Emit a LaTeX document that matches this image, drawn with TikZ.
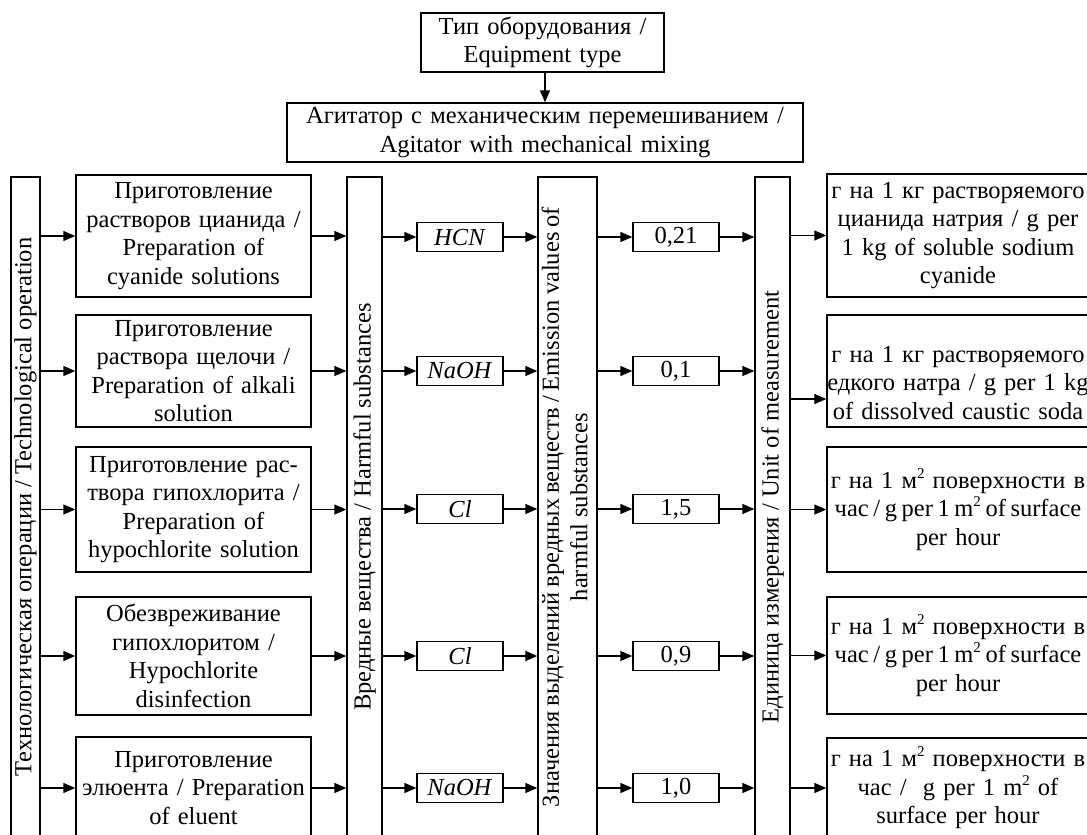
\documentclass[tikz,border=0pt]{standalone}
\usepackage{fontspec}
\setmainfont{Liberation Serif}
\usetikzlibrary{arrows.meta}
\newcommand\sqtwo{\raisebox{10pt}{\fontsize{15}{15}\selectfont 2}}
\begin{document}
\begin{tikzpicture}[x=1pt,y=-1pt,
  every node/.style={font=\fontsize{24.5}{28.5}\selectfont},
  bx/.style={draw, line width=1.4pt, inner sep=0pt, align=center},
  tall/.style={bx, minimum width=#1, minimum height=660pt},
  op/.style={bx, text width=235pt},
  sb/.style={bx, text width=86pt, minimum height=29pt},
  rt/.style={bx, text width=262pt},
  arr/.style={line width=1.4pt, -{Triangle[length=12pt,width=10pt]}}]
\useasboundingbox (0,0) rectangle (1087,835);
\clip (0,0) rectangle (1087,835);

\node[bx, text width=243pt, minimum height=59pt] (eq) at (542.5,42.5) {Тип оборудования /\\Equipment type};
\node[bx, text width=516pt, minimum height=59pt] (ag) at (545,132.5) {Агитатор с механическим перемешиванием /\\Agitator with mechanical mixing};
\draw[arr] (ag.north |- eq.south) -- (ag.north);

\node[tall=29pt] (tech) at (25.5,507) {\rotatebox{90}{Технологическая операции / Technological operation}};
\node[tall=35pt] (harm) at (364.5,507) {\rotatebox{90}{Вредные вещества / Harmful substances}};
\node[tall=59pt] (emis) at (567.5,507) {\rotatebox{90}{\begin{tabular}{@{}c@{}}\makebox[600pt][s]{Значения выделений вредных веществ / Emission values of}\\harmful substances\end{tabular}}};
\node[tall=35pt] (unit) at (772.5,507) {\rotatebox{90}{Единица измерения / Unit of measurement}};

\node[op, minimum height=122pt] (o1) at (193.5,236) {Приготовление\\растворов цианида /\\Preparation of\\cyanide solutions};
\node[op, minimum height=112pt] (o2) at (193.5,371) {Приготовление\\раствора щелочи /\\Preparation of alkali\\solution};
\node[op, minimum height=125pt] (o3) at (193.5,509.5) {Приготовление рас-\\твора гипохлорита /\\Preparation of\\hypochlorite solution};
\node[op, minimum height=118pt] (o4) at (193.5,656) {Обезвреживание\\гипохлоритом /\\Hypochlorite\\disinfection};
\node[op, minimum height=102pt] (o5) at (193.5,788) {Приготовление\\элюента / Preparation\\of eluent};

\node[sb] (s1) at (460,237) {\textit{HCN}};
\node[sb] (s2) at (460,371) {\textit{NaOH}};
\node[sb] (s3) at (460,509) {\textit{Cl}};
\node[sb] (s4) at (460,656) {\textit{Cl}};
\node[sb] (s5) at (460,788) {\textit{NaOH}};

\node[sb] (v1) at (676,237) {0,21};
\node[sb] (v2) at (676,371) {0,1};
\node[sb] (v3) at (676,509) {1,5};
\node[sb] (v4) at (676,656) {0,9};
\node[sb] (v5) at (676,788) {1,0};

\node[rt, minimum height=123pt] (r1) at (958,235.5) {г на 1 кг растворяемого\\цианида натрия / g per\\1 kg of soluble sodium\\cyanide};
\node[rt, minimum height=112pt] (r2) at (958,371) {\rule{0pt}{40pt}г на 1 кг растворяемого\\\mbox{едкого натра / g per 1 kg}\\\mbox{of dissolved caustic soda}};
\node[rt, minimum height=125pt] (r3) at (958,509.5) {г на 1 м\sqtwo{} поверхности в\\\mbox{\spaceskip=4.6pt час / g per 1 m\sqtwo{} of surface}\\per hour};
\node[rt, minimum height=117pt] (r4) at (958,655.5) {г на 1 м\sqtwo{} поверхности в\\\mbox{\spaceskip=4.6pt час / g per 1 m\sqtwo{} of surface}\\per hour};
\node[rt, minimum height=100pt] (r5) at (958,788) {г на 1 м\sqtwo{} поверхности в\\\mbox{час / \ g per 1 m\sqtwo{} of}\\surface per hour};

\foreach \i in {1,...,5} {
  \draw[arr] (tech.east |- o\i.west) -- (o\i.west);
  \draw[arr] (o\i.east) -- (o\i.east -| harm.west);
  \draw[arr] (harm.east |- s\i.west) -- (s\i.west);
  \draw[arr] (s\i.east) -- (s\i.east -| emis.west);
  \draw[arr] (emis.east |- v\i.west) -- (v\i.west);
  \draw[arr] (v\i.east) -- (v\i.east -| unit.west);
}
\draw[arr] (unit.east |- r1.west) -- (r1.west);
\coordinate (k2) at (0,399);
\draw[arr] (unit.east |- k2) -- (r2.west |- k2);
\draw[arr] (unit.east |- r3.west) -- (r3.west);
\draw[arr] (unit.east |- r4.west) -- (r4.west);
\draw[arr] (unit.east |- r5.west) -- (r5.west);
\end{tikzpicture}
\end{document}
